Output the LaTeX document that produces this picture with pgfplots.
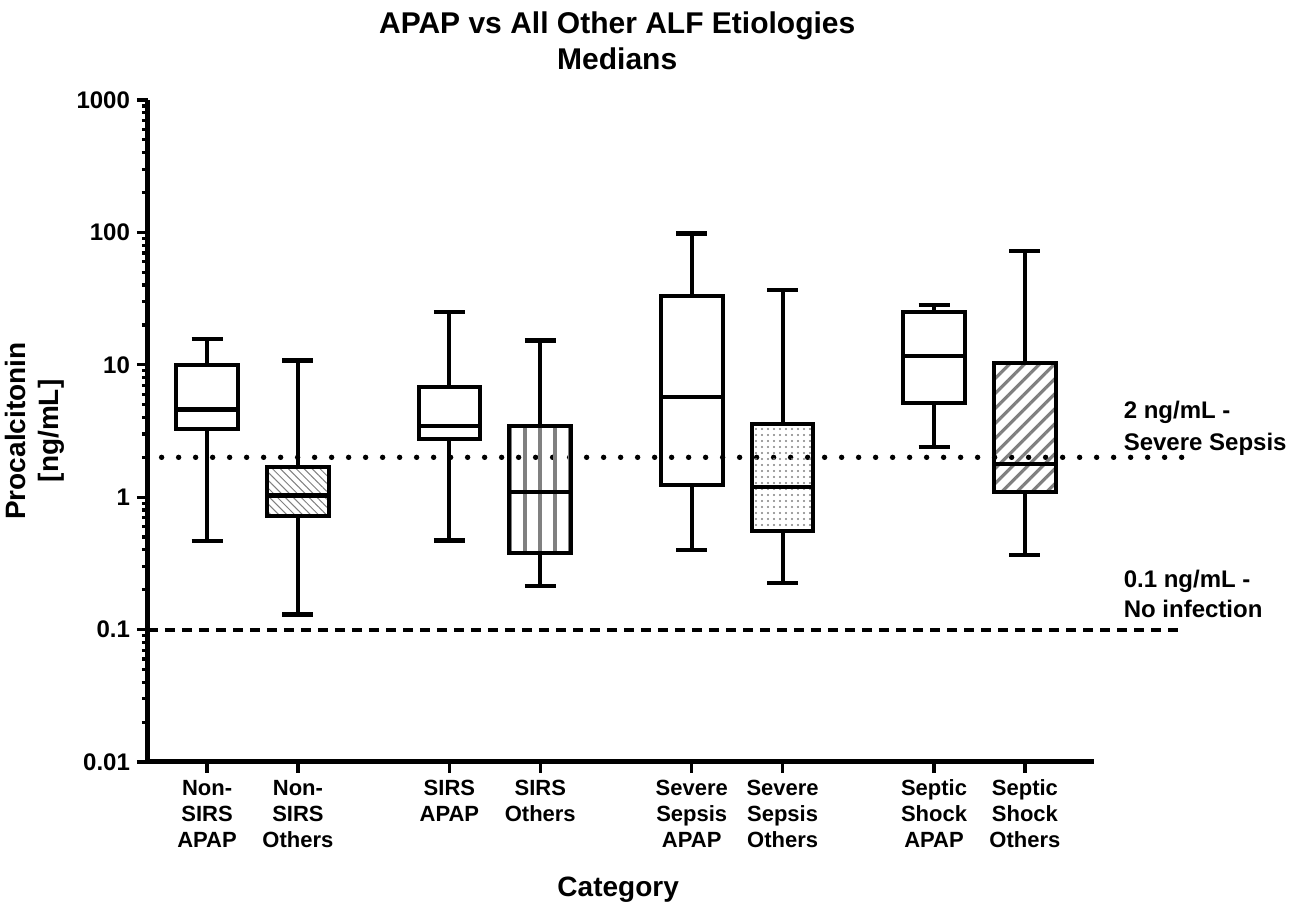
\documentclass[border=0pt]{standalone}
\usepackage{fontspec}
\setmainfont{Liberation Sans}
\usepackage{pgfplots}
\pgfplotsset{compat=1.18}
\usetikzlibrary{patterns.meta}

% whisker: x, capLeft, capRight, from, to
\newcommand{\whisk}[5]{%
  \addplot[black, line width=2pt] coordinates {(#1,#4) (#1,#5)};
  \addplot[black, line width=2.2pt] coordinates {(#2,#5) (#3,#5)};}
% box: left, right, q1, median, q3, fill style
\newcommand{\bx}[6]{%
  \addplot[black, line width=2pt, #6] coordinates {(#1,#3) (#2,#3) (#2,#5) (#1,#5)} -- cycle;
  \addplot[black, line width=2.2pt] coordinates {(#1,#4) (#2,#4)};}

\begin{document}
\begin{tikzpicture}
\begin{axis}[
  at={(0,0)}, anchor=south west,
  scale only axis, width=473pt, height=331pt,
  ymode=log, ymin=0.01, ymax=1000,
  xmin=-0.65, xmax=9.76,
  axis x line=bottom, axis y line=left,
  axis line style={-, line width=2.5pt},
  clip=false,
  tick align=outside,
  major tick length=5.5pt, minor tick length=3pt,
  every tick/.style={black, line width=1.6pt},
  xtick={0,1,2.6667,3.6667,5.3333,6.3333,8,9},
  xticklabels={Non-\\SIRS\\APAP, Non-\\SIRS\\Others, SIRS\\APAP, SIRS\\Others, Severe\\Sepsis\\APAP, Severe\\Sepsis\\Others, Septic\\Shock\\APAP, Septic\\Shock\\Others},
  xticklabel style={align=center, anchor=north, font=\bfseries\fontsize{11}{13}\selectfont},
  ytick={0.01,0.1,1,10,100,1000},
  yticklabels={0.01,0.1,1,10,100,1000},
  minor ytick={0.02,0.03,0.04,0.05,0.06,0.07,0.08,0.09,0.2,0.3,0.4,0.5,0.6,0.7,0.8,0.9,2,3,4,5,6,7,8,9,20,30,40,50,60,70,80,90,200,300,400,500,600,700,800,900},
  yticklabel style={font=\bfseries\fontsize{12}{14}\selectfont},
  ylabel={Procalcitonin\\{[ng/mL]}},
  ylabel style={at={(axis description cs:-0.12,0.5)}, anchor=center, align=center, font=\bfseries\fontsize{14}{16.5}\selectfont},
  xlabel={Category},
  xlabel style={at={(axis description cs:0.497,-0.193)}, anchor=center, font=\bfseries\fontsize{14}{16}\selectfont},
  title={APAP vs All Other ALF Etiologies\\Medians},
  title style={at={(axis description cs:0.496,1.0715)}, anchor=center, yshift=0pt, align=center, font=\bfseries\fontsize{15}{18}\selectfont},
]
% reference lines
\addplot[black, line width=2.7pt, line cap=round, dash pattern=on 0pt off 8.5pt] coordinates {(-0.5,2) (10.74,2)};
\addplot[black, line width=2pt, dash pattern=on 5pt off 3.5pt] coordinates {(-0.65,0.1) (10.74,0.1)};

% Non-SIRS APAP
\whisk{0}{-0.17}{0.17}{9.9}{15.6}
\whisk{0}{-0.17}{0.17}{3.26}{0.465}
\bx{-0.34}{0.34}{3.26}{4.6}{9.9}{}
% Non-SIRS Others
\whisk{1}{0.83}{1.17}{1.69}{10.8}
\whisk{1}{0.83}{1.17}{0.72}{0.13}
\bx{0.66}{1.34}{0.72}{1.03}{1.69}{pattern={Lines[angle=-45,distance=2.8pt,line width=0.5pt]}, pattern color=gray}
% SIRS APAP
\whisk{2.6667}{2.4967}{2.8367}{6.77}{25}
\whisk{2.6667}{2.4967}{2.8367}{2.74}{0.47}
\bx{2.3267}{3.0067}{2.74}{3.44}{6.77}{}
% SIRS Others
\whisk{3.6667}{3.4967}{3.8367}{3.44}{15.3}
\whisk{3.6667}{3.4967}{3.8367}{0.378}{0.213}
\bx{3.3267}{4.0067}{0.378}{1.09}{3.44}{pattern={Lines[angle=90,distance=7.5pt,line width=2.4pt]}, pattern color=gray}
% Severe Sepsis APAP
\whisk{5.3333}{5.1633}{5.5033}{33}{98}
\whisk{5.3333}{5.1633}{5.5033}{1.23}{0.40}
\bx{4.9933}{5.6733}{1.23}{5.7}{33}{}
% Severe Sepsis Others
\whisk{6.3333}{6.1633}{6.5033}{3.56}{36.6}
\whisk{6.3333}{6.1633}{6.5033}{0.553}{0.224}
\bx{5.9933}{6.6733}{0.553}{1.19}{3.56}{pattern={Dots[distance=3pt,radius=0.6pt]}, pattern color=gray}
% Septic Shock APAP
\whisk{8}{7.83}{8.17}{25}{28.2}
\whisk{8}{7.83}{8.17}{5.13}{2.39}
\bx{7.66}{8.34}{5.13}{11.6}{25}{}
% Septic Shock Others
\whisk{9}{8.83}{9.17}{10.3}{72}
\whisk{9}{8.83}{9.17}{1.09}{0.365}
\bx{8.66}{9.34}{1.09}{1.78}{10.3}{pattern={Lines[angle=45,distance=5.3pt,line width=1.6pt]}, pattern color=gray}

\node[anchor=west, align=left, font=\bfseries\fontsize{12}{16}\selectfont] at (axis cs:10.01,3.32) {2 ng/mL -\\Severe Sepsis};
\node[anchor=west, align=left, font=\bfseries\fontsize{12}{15}\selectfont] at (axis cs:10.01,0.185) {0.1 ng/mL -\\No infection};
\end{axis}
\pgfresetboundingbox
\path[use as bounding box] (-74pt,-73.5pt) rectangle (583pt,381pt);
\end{tikzpicture}
\end{document}
